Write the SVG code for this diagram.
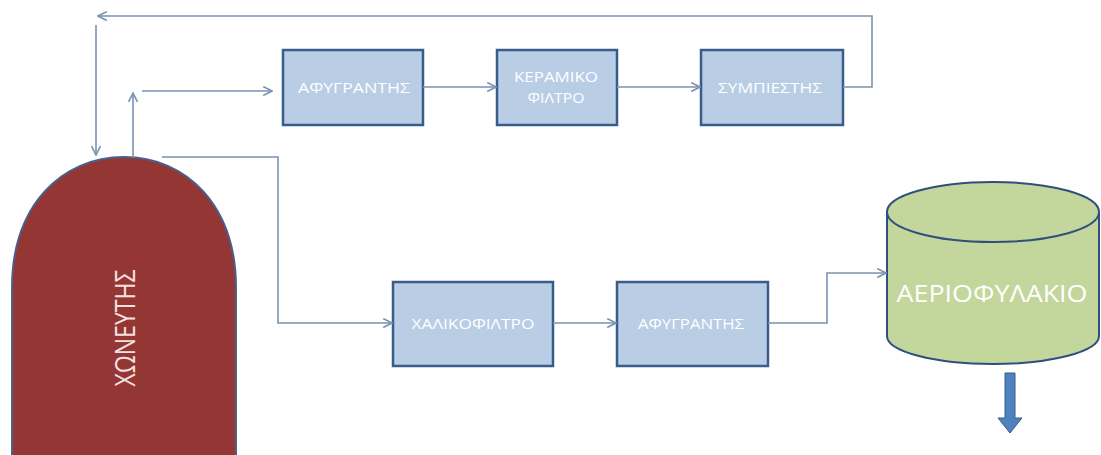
<svg xmlns="http://www.w3.org/2000/svg" width="1101" height="455" viewBox="0 0 1101 455">
<style>
.box{fill:#b9cde5;stroke:#385d8a;stroke-width:2.5}
.lbl{font-family:"Open Sans","Liberation Sans",Arial,sans-serif;font-size:15px;fill:#ffffff;text-anchor:middle}
.ln{fill:none;stroke:#7a93b3;stroke-width:1.6}
</style>
<defs>
<marker id="ah" viewBox="0 0 10 10" refX="9" refY="5" markerWidth="11" markerHeight="11" markerUnits="userSpaceOnUse" orient="auto">
<path d="M1,1 L9,5 L1,9" fill="none" stroke="#7a93b3" stroke-width="1.5"/>
</marker>
</defs>
<rect width="1101" height="455" fill="#ffffff"/>
<g id="furnace">
<path d="M12,460 L12,288 C12,205 62,157 124,157 C186,157 236,205 236,288 L236,460 Z" fill="#943634" stroke="#4a5f8a" stroke-width="2"/>
<text transform="translate(135,328) rotate(-90)" font-family="'Open Sans','Liberation Sans',sans-serif" font-size="28" fill="#f4e0e0" text-anchor="middle" textLength="117" lengthAdjust="spacingAndGlyphs">ΧΩΝΕΥΤΗΣ</text>
</g>
<g id="afygrantis1">
<rect class="box" x="283" y="50" width="140" height="75"/>
<text class="lbl" x="354" y="93" textLength="112" lengthAdjust="spacingAndGlyphs">ΑΦΥΓΡΑΝΤΗΣ</text>
</g>
<g id="keramiko">
<rect class="box" x="497" y="50" width="120" height="75"/>
<text class="lbl" x="556" y="82" textLength="84" lengthAdjust="spacingAndGlyphs">ΚΕΡΑΜΙΚΟ</text>
<text class="lbl" x="556" y="103" textLength="57" lengthAdjust="spacingAndGlyphs">ΦΙΛΤΡΟ</text>
</g>
<g id="sympiestis">
<rect class="box" x="701" y="50" width="142" height="75"/>
<text class="lbl" x="770" y="93" textLength="104" lengthAdjust="spacingAndGlyphs">ΣΥΜΠΙΕΣΤΗΣ</text>
</g>
<g id="chalikofiltro">
<rect class="box" x="393" y="282" width="160" height="84"/>
<text class="lbl" x="473" y="329" textLength="123" lengthAdjust="spacingAndGlyphs">ΧΑΛΙΚΟΦΙΛΤΡΟ</text>
</g>
<g id="afygrantis2">
<rect class="box" x="617" y="282" width="151" height="84"/>
<text class="lbl" x="691" y="329" textLength="106" lengthAdjust="spacingAndGlyphs">ΑΦΥΓΡΑΝΤΗΣ</text>
</g>
<g id="aeriofylakio">
<path d="M887,212 L887,336 A106,28 0 0 0 1099,336 L1099,212" fill="#c3d69b" stroke="#2f4f7f" stroke-width="2"/>
<ellipse cx="993" cy="212" rx="106" ry="30" fill="#c3d69b" stroke="#2f4f7f" stroke-width="2"/>
<text x="992" y="302" font-family="'Open Sans','Liberation Sans',sans-serif" font-size="24" fill="#ffffff" text-anchor="middle" textLength="191" lengthAdjust="spacingAndGlyphs">ΑΕΡΙΟΦΥΛΑΚΙΟ</text>
</g>
<g id="connectors">
<path class="ln" d="M843,87 L872,87 L872,16 L98,16" marker-end="url(#ah)"/>
<path class="ln" d="M96,25 L96,155" marker-end="url(#ah)"/>
<path class="ln" d="M133,158 L133,93" marker-end="url(#ah)"/>
<path class="ln" d="M142,91 L272,91" marker-end="url(#ah)"/>
<path class="ln" d="M423,87 L496,87" marker-end="url(#ah)"/>
<path class="ln" d="M617,87 L700,87" marker-end="url(#ah)"/>
<path class="ln" d="M162,157 L278,157 L278,323 L392,323" marker-end="url(#ah)"/>
<path class="ln" d="M553,323 L616,323" marker-end="url(#ah)"/>
<path class="ln" d="M768,323 L827,323 L827,273 L886,273" marker-end="url(#ah)"/>
<path d="M1005,373 L1015,373 L1015,418 L1022,418 L1010,433 L998,418 L1005,418 Z" fill="#4f81bd" stroke="#385d8a" stroke-width="1"/>
</g>
</svg>
